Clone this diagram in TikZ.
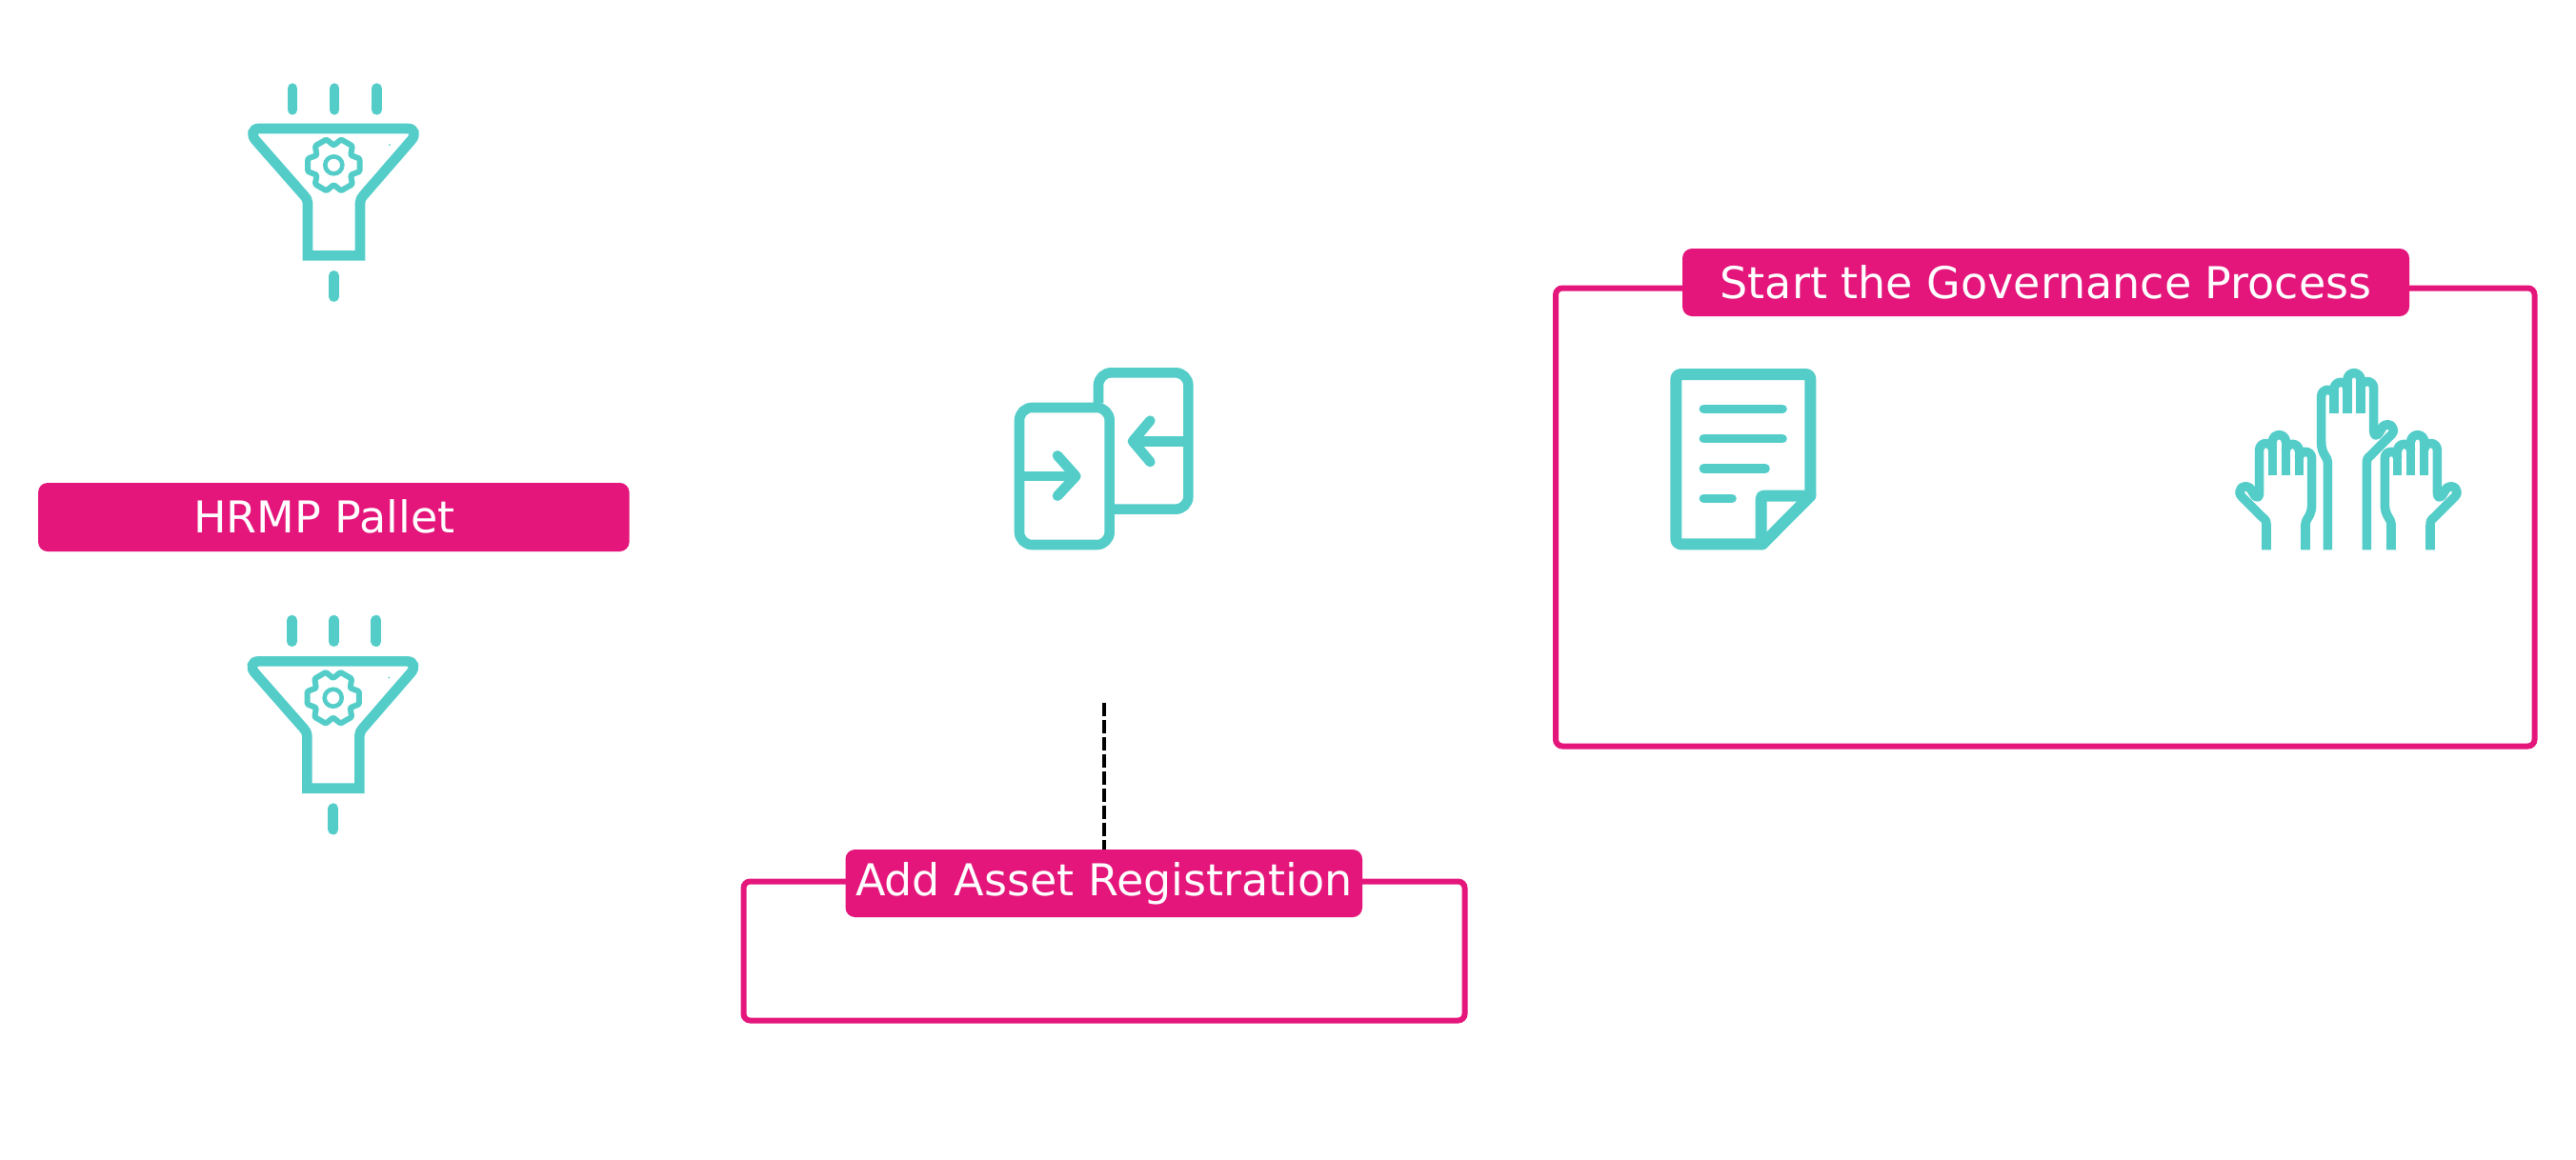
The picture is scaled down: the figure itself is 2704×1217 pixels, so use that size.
\documentclass[tikz,border=0pt]{standalone}
\usepackage{fontspec}
\setmainfont{DejaVu Sans}
\definecolor{icoteal}{HTML}{54CDC9}
\definecolor{hotpink}{HTML}{E4157B}
\tikzset{
  ico/.style={draw=icoteal,line width=5.3pt,line cap=round,line join=round,fill=none},
  labelbox/.style={fill=hotpink,rounded corners=5pt,text=white,inner sep=0pt,outer sep=0pt,
     font=\fontsize{23}{27}\selectfont,text height=16.8pt,text depth=0pt},
  framebox/.style={draw=hotpink,line width=3pt,rounded corners=3.5pt,inner sep=0pt,outer sep=0pt}
}
\newcommand{\funnelicon}[3]{%
 \begin{scope}[shift={(#1,#2)},scale=0.33333]
  \foreach \tx in {201,333,466} \draw[ico] (\tx,{68+#3}) -- (\tx,{136+#3});
  \draw[ico] (331,658) -- (331,725);
  \draw[ico,line join=miter,miter limit=10] (95,195) -- (565,195) .. controls (585,195) and (590,215) .. (575,232)
     -- (425,405) .. controls (417,415) and (414,420) .. (414,430) -- (414,595) -- (249,595) -- (249,430)
     .. controls (249,420) and (245,415) .. (237,405) -- (85,232) .. controls (70,215) and (75,195) .. (95,195) -- cycle;
  \draw[ico,line width=2.3pt] (331,310) circle (27);
  \draw[ico,line width=3pt,rounded corners=0.6pt] ([shift={(331,310)}]-30:62)
     \foreach \a in {0,60,...,300} { -- ([shift={(331,310)}]{\a-14}:84) -- ([shift={(331,310)}]{\a+14}:84) -- ([shift={(331,310)}]{\a+30}:62) } -- cycle;
  \fill[icoteal] (507,246) circle (3);
 \end{scope}}
\newcommand{\handicon}[4]{%
 \begin{scope}[shift={(2330,370)},scale=0.33333,shift={(#1,#2)},xscale=#3]
  \draw[ico,line width=4.8pt,line cap=butt] (340,#4) -- (340,345) .. controls (340,330) and (320,320) .. (320,285) -- (320,138)
     arc[start angle=180,end angle=360,radius=20]
     (360,115) arc[start angle=180,end angle=360,radius=21]
     (402,86) arc[start angle=180,end angle=360,radius=21]
     (444,112) arc[start angle=180,end angle=360,radius=20.5] -- (485,245)
     .. controls (485,262) and (492,265) .. (500,256) -- (515,232)
     .. controls (535,218) and (560,240) .. (540,260) -- (475,325)
     .. controls (465,332) and (463,338) .. (463,350) -- (463,#4);
  \draw[ico,line width=4.8pt,line cap=butt] (360,193) -- (360,115) (402,193) -- (402,86) (444,193) -- (444,86);
 \end{scope}}
\begin{document}
\begin{tikzpicture}[x=0.5pt,y=-0.5pt]
\path[fill=white,use as bounding box] (0,0) rectangle (2704,1217);
% frames
\node[framebox,minimum width=513.75pt,minimum height=240.5pt] (govframe) at (2146.75,543) {};
\node[framebox,minimum width=378.5pt,minimum height=73pt] (addframe) at (1159,998.5) {};
% labels
\node[labelbox,minimum width=310.3pt,minimum height=36pt] (hrmp) at (350.3,543) {HRMP Pallet\kern10pt};
\node[labelbox,minimum width=271.25pt,minimum height=35.5pt,text height=12.8pt] (addlabel) at (1158.75,927.5) {Add Asset Registration};
\node[labelbox,minimum width=381.5pt,minimum height=35.5pt] (govlabel) at (2147.5,296.5) {Start the Governance Process};
% dashed connector
\coordinate (dashtop) at (1158.75,738);
\draw[black,line width=1.9pt,dash pattern=on 7pt off 2pt] (dashtop) -- (addlabel.north);
% funnels
\funnelicon{240}{70}{0}
\funnelicon{239.4}{629.4}{-3}
% exchange icon
\begin{scope}[shift={(1050,370)},scale=0.33333]
 \draw[ico,line cap=butt,rounded corners=6.67pt] (60,174) -- (344,174) -- (344,606) -- (60,606) -- cycle;
 \draw[ico,line cap=butt,rounded corners=6.67pt] (309,160) -- (309,64) -- (592,64) -- (592,494) -- (350,494);
 \draw[ico,line cap=butt] (60,390) -- (235,390);
 \draw[ico] (180,325) -- (238,390) -- (180,452);
 \draw[ico,line cap=butt] (592,280) -- (420,280);
 \draw[ico] (472,215) -- (417,280) -- (472,345);
\end{scope}
% document icon
\begin{scope}[shift={(1740,370)},scale=0.33333]
 \draw[ico,line width=6pt] (75,69) -- (465,69) .. controls (475,69) and (481,75) .. (481,85) -- (481,452) -- (330,604) -- (75,604)
   .. controls (65,604) and (58,597) .. (58,587) -- (58,85) .. controls (58,75) and (65,69) .. (75,69) -- cycle;
 \draw[ico,line width=6pt] (481,452) -- (335,452) .. controls (329,452) and (326,455) .. (326,461) -- (326,604);
 \draw[ico,line width=4.8pt] (145,178) -- (393,178) (145,272) -- (393,272) (145,366) -- (339,366) (145,460) -- (234,460);
\end{scope}
% hands
\handicon{0}{0}{1}{622}
\handicon{200}{195}{1}{427}
\handicon{610}{195}{-1}{427}
\end{tikzpicture}
\end{document}
